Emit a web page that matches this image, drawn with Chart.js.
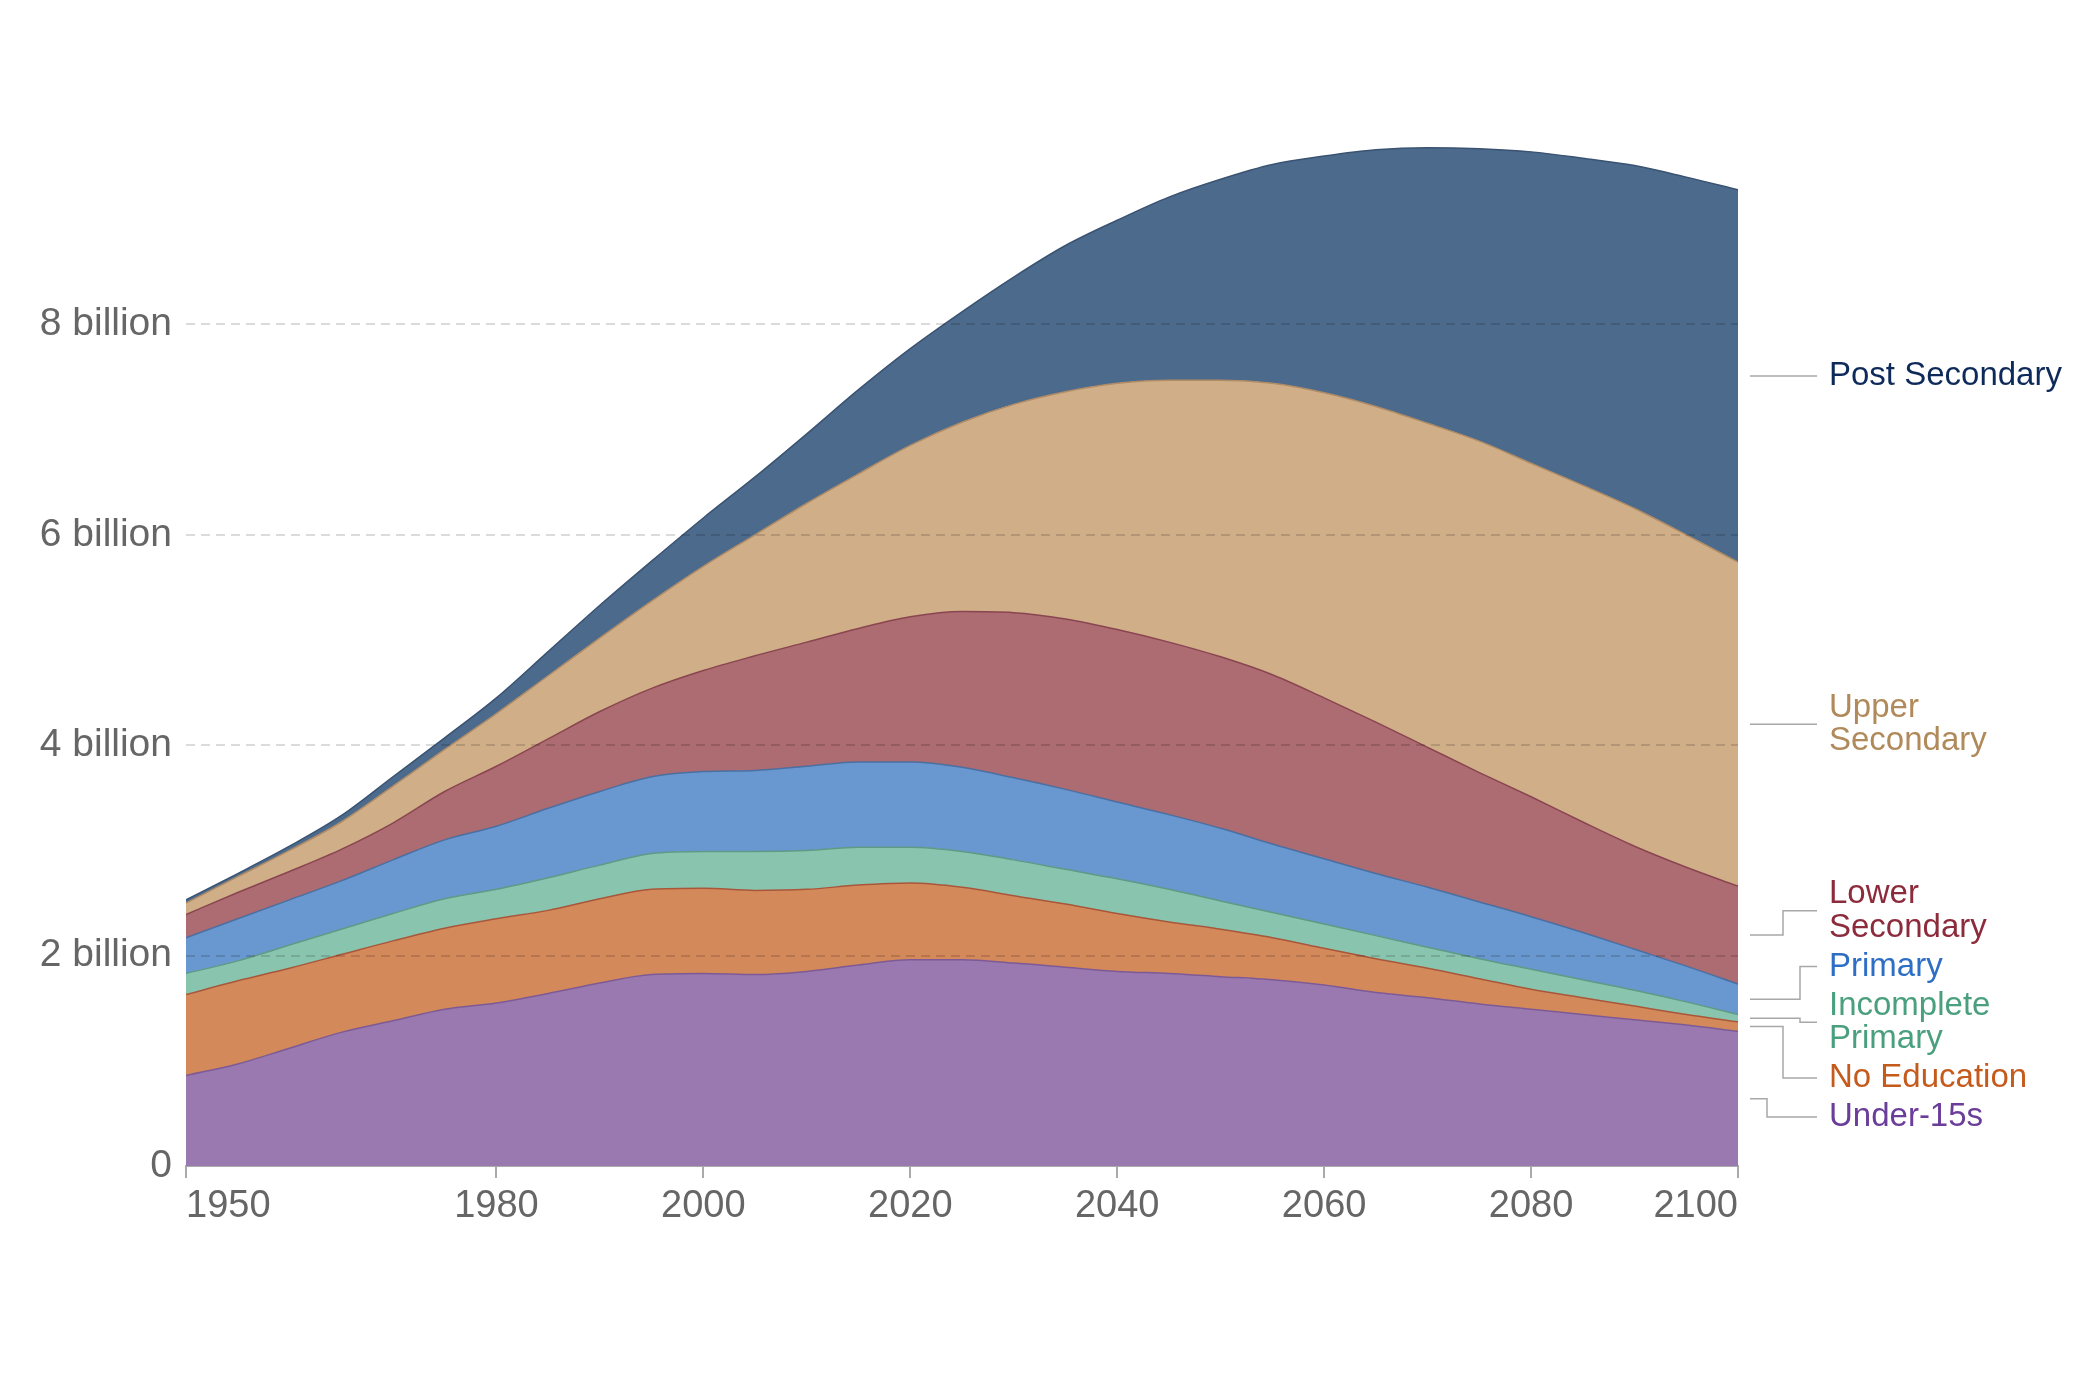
<!DOCTYPE html>
<html>
<head>
<meta charset="utf-8">
<script src="https://cdn.jsdelivr.net/npm/chart.js"></script>
<style>
  html, body { margin: 0; padding: 0; background: #fff; }
</style>
</head>
<body>
<canvas id="eduChart" width="2100" height="1400"></canvas>
<script>
// world population by education level, billions, 5-year steps
const years = [1950, 1955, 1960, 1965, 1970, 1975, 1980, 1985, 1990, 1995,
               2000, 2005, 2010, 2015, 2020, 2025, 2030, 2035, 2040, 2045,
               2050, 2055, 2060, 2065, 2070, 2075, 2080, 2085, 2090, 2095, 2100];

const under15 = [0.86, 0.97, 1.12, 1.27, 1.38, 1.49, 1.55, 1.64, 1.74, 1.82,
                 1.83, 1.82, 1.85, 1.91, 1.96, 1.96, 1.93, 1.89, 1.85, 1.83,
                 1.80, 1.77, 1.72, 1.65, 1.60, 1.54, 1.49, 1.44, 1.39, 1.34, 1.28];
const noEducation = [0.77, 0.79, 0.76, 0.74, 0.76, 0.77, 0.80, 0.79, 0.80, 0.81,
                     0.81, 0.80, 0.78, 0.76, 0.73, 0.69, 0.64, 0.60, 0.55, 0.49,
                     0.45, 0.40, 0.35, 0.32, 0.28, 0.24, 0.19, 0.16, 0.13, 0.10, 0.09];
const incompletePrimary = [0.20, 0.19, 0.22, 0.24, 0.26, 0.28, 0.28, 0.31, 0.32, 0.34,
                           0.35, 0.37, 0.37, 0.36, 0.34, 0.34, 0.34, 0.33, 0.33, 0.31,
                           0.27, 0.24, 0.23, 0.22, 0.20, 0.19, 0.19, 0.17, 0.15, 0.12, 0.07];
const primary = [0.34, 0.40, 0.43, 0.46, 0.51, 0.56, 0.60, 0.66, 0.70, 0.73,
                 0.76, 0.77, 0.80, 0.81, 0.81, 0.80, 0.78, 0.76, 0.73, 0.71,
                 0.69, 0.65, 0.62, 0.59, 0.57, 0.54, 0.50, 0.45, 0.39, 0.34, 0.29];
const lowerSecondary = [0.22, 0.25, 0.27, 0.30, 0.35, 0.46, 0.57, 0.66, 0.76, 0.84,
                        0.96, 1.09, 1.18, 1.27, 1.38, 1.48, 1.57, 1.62, 1.64, 1.64,
                        1.63, 1.61, 1.53, 1.44, 1.33, 1.23, 1.14, 1.05, 0.98, 0.94, 0.93];
const upperSecondary = [0.11, 0.15, 0.20, 0.26, 0.35, 0.40, 0.50, 0.60, 0.70, 0.83,
                        0.99, 1.15, 1.32, 1.47, 1.63, 1.80, 1.98, 2.16, 2.34, 2.49,
                        2.63, 2.77, 2.90, 3.00, 3.08, 3.15, 3.17, 3.20, 3.21, 3.16, 3.08];
const postSecondary = [0.03, 0.03, 0.04, 0.06, 0.09, 0.11, 0.15, 0.23, 0.31, 0.38,
                       0.46, 0.55, 0.66, 0.80, 0.92, 1.05, 1.21, 1.39, 1.55, 1.74,
                       1.91, 2.08, 2.25, 2.44, 2.62, 2.78, 2.96, 3.11, 3.26, 3.40, 3.54];

const seriesNames = ['Under-15s', 'No Education', 'Incomplete Primary', 'Primary',
                     'Lower Secondary', 'Upper Secondary', 'Post Secondary'];
const labelLines = [['Under-15s'], ['No Education'], ['Incomplete', 'Primary'], ['Primary'],
                    ['Lower', 'Secondary'], ['Upper', 'Secondary'], ['Post Secondary']];
const seriesValues = [under15, noEducation, incompletePrimary, primary,
                      lowerSecondary, upperSecondary, postSecondary];

const xTicks = [1950, 1980, 2000, 2020, 2040, 2060, 2080, 2100];
const yTicks = [0, 2, 4, 6, 8];
const yTickLabels = ['0', '2 billion', '4 billion', '6 billion', '8 billion'];

const fillColors = ['#9979b0', '#d4895b', '#89c4ae', '#6898cf', '#ad6b72', '#cfae88', '#4c6a8c'];
const lineColors = ['#7d5a96', '#a8573a', '#5f9a86', '#4a6fa0', '#8a4650', '#b08c66', '#3a5372'];
const textColors = ['#6a3d9a', '#c45a1c', '#4aa07e', '#2e6ec4', '#8c2b3c', '#b08a5a', '#0e2a5a'];

const FONT = "'Liberation Sans', Arial, sans-serif";
const LINE_H = 33.5;
const LABEL_GAP = 5.5;

Chart.defaults.font.family = FONT;

// right-hand labels with elbow connectors, spread apart where they would overlap
const endLabels = {
    id: 'endLabels',
    afterDraw(chart) {
        const { ctx, chartArea, scales: { y } } = chart;
        const last = years.length - 1;
        const items = chart.data.datasets.map((ds, i) => {
            const top = chart.getDatasetMeta(i).data[last].y;
            const bottom = i === 0 ? y.getPixelForValue(0) : chart.getDatasetMeta(i - 1).data[last].y;
            return { i, lines: labelLines[i], target: (top + bottom) / 2,
                     h: labelLines[i].length * LINE_H + LABEL_GAP };
        });
        items.sort((a, b) => a.target - b.target);

        const settle = b => {
            let off = 0, num = 0;
            b.items.forEach(it => { num += it.h * (it.target - off - it.h / 2); off += it.h; });
            b.h = off;
            b.top = num / off;
        };
        const blocks = [];
        items.forEach(it => {
            const b = { items: [it] };
            settle(b);
            blocks.push(b);
            while (blocks.length > 1) {
                const cur = blocks[blocks.length - 1], prev = blocks[blocks.length - 2];
                if (prev.top + prev.h <= cur.top) break;
                prev.items = prev.items.concat(cur.items);
                settle(prev);
                blocks.pop();
            }
        });
        blocks.forEach(b => {
            let off = 0;
            b.items.forEach(it => { it.y = b.top + off + it.h / 2; off += it.h; });
            const up = b.items.filter(it => it.y < it.target - 8).reverse();
            const down = b.items.filter(it => it.y > it.target + 8);
            up.forEach((it, k) => { it.ex = chartArea.right + 62 - k * 17; });
            down.forEach((it, k) => { it.ex = chartArea.right + 45 - k * 16; });
        });

        const x0 = chartArea.right + 12, x1 = chartArea.right + 79;
        ctx.save();
        ctx.strokeStyle = '#a8a8a8';
        ctx.lineWidth = 1.5;
        items.forEach(it => {
            const ex = it.ex !== undefined ? it.ex : chartArea.right + 62;
            ctx.beginPath();
            ctx.moveTo(x0, it.target);
            ctx.lineTo(ex, it.target);
            ctx.lineTo(ex, it.y);
            ctx.lineTo(x1, it.y);
            ctx.stroke();
        });
        ctx.font = '33px ' + FONT;
        ctx.textAlign = 'left';
        ctx.textBaseline = 'middle';
        items.forEach(it => {
            ctx.fillStyle = textColors[it.i];
            const y0 = it.y - (it.lines.length - 1) * LINE_H / 2;
            it.lines.forEach((t, k) => ctx.fillText(t, x1 + 12, y0 + k * LINE_H));
        });
        ctx.restore();
    }
};

const ctx = document.getElementById('eduChart').getContext('2d');

const eduChart = new Chart(ctx, {
    type: 'line',
    data: {
        datasets: seriesNames.map((name, i) => ({
            label: name,
            data: years.map((yr, k) => ({ x: yr, y: seriesValues[i][k] })),
            backgroundColor: fillColors[i],
            borderColor: lineColors[i],
            borderWidth: 1.5,
            fill: i === 0 ? 'origin' : '-1',
            pointRadius: 0,
            cubicInterpolationMode: 'monotone'
        }))
    },
    options: {
        responsive: false,
        animation: false,
        devicePixelRatio: 1,
        layout: { padding: { top: 114, right: 362, bottom: 0, left: 0 } },
        plugins: {
            legend: { display: false },
            tooltip: { enabled: false }
        },
        scales: {
            x: {
                type: 'linear',
                min: 1950,
                max: 2100,
                afterBuildTicks: s => { s.ticks = xTicks.map(v => ({ value: v })); },
                afterFit: s => { s.height = 234; },
                grid: { drawOnChartArea: false, drawTicks: true, tickLength: 12, color: '#aaa', lineWidth: 2 },
                border: { display: true, color: '#aaa', width: 2 },
                ticks: {
                    align: 'inner',
                    padding: 6,
                    color: '#666',
                    font: { size: 38 },
                    maxRotation: 0,
                    autoSkip: false,
                    callback: v => String(v)
                }
            },
            y: {
                stacked: true,
                min: 0,
                max: 10,
                afterBuildTicks: s => { s.ticks = yTicks.map(v => ({ value: v })); },
                afterFit: s => { s.width = 186; },
                grid: {
                    z: 1,
                    drawTicks: false,
                    lineWidth: 2,
                    color: c => c.tick && c.tick.value === 0 ? 'rgba(0,0,0,0)' : 'rgba(0,0,0,0.14)'
                },
                border: { display: false, dash: [9, 6] },
                ticks: {
                    padding: 14,
                    color: '#666',
                    font: { size: 39 },
                    callback: v => yTickLabels[yTicks.indexOf(v)]
                }
            }
        }
    },
    plugins: [endLabels]
});
</script>
</body>
</html>
